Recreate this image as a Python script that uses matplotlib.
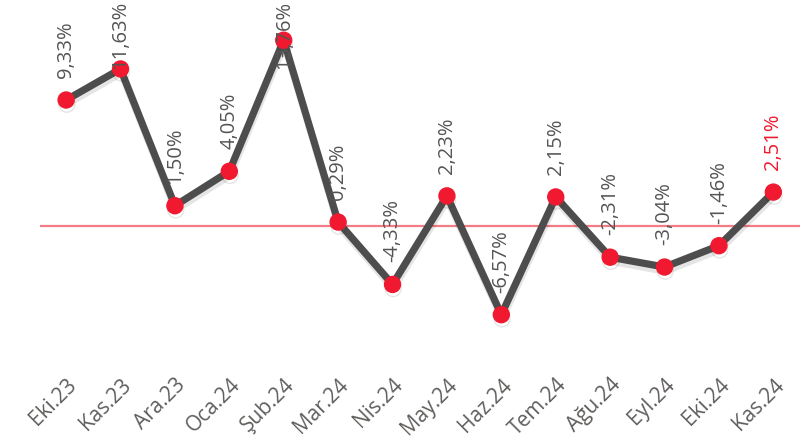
import matplotlib
matplotlib.use("Agg")
import matplotlib.pyplot as plt
import matplotlib.patheffects as pe

months = ["Eki.23", "Kas.23", "Ara.23", "Oca.24", "Şub.24", "Mar.24", "Nis.24",
          "May.24", "Haz.24", "Tem.24", "Ağu.24", "Eyl.24", "Eki.24", "Kas.24"]
values = [9.33, 11.63, 1.50, 4.05, 13.76, 0.29, -4.33,
          2.23, -6.57, 2.15, -2.31, -3.04, -1.46, 2.51]
labels = ["9,33%", "11,63%", "1,50%", "4,05%", "13,76%", "0,29%", "-4,33%",
          "2,23%", "-6,57%", "2,15%", "-2,31%", "-3,04%", "-1,46%", "2,51%"]

W, H = 812, 439
DPI = 100
fig = plt.figure(figsize=(W / DPI, H / DPI), dpi=DPI)
ax = fig.add_axes([40 / W, 1 - 362 / H, 760 / W, 362 / H])

x = list(range(len(values)))
line_col = "#4d4d4d"
red = "#f0192f"

shadow = [pe.SimpleLineShadow(offset=(0.5, -3), shadow_color="black", alpha=0.10, rho=0.3),
          pe.Normal()]
ax.plot(x, values, color=line_col, lw=5.2, solid_joinstyle="round", zorder=3,
        path_effects=shadow)
ax.plot(x, values, ls="none", marker="o", ms=11.5, mfc=red, mec=red, zorder=4,
        path_effects=shadow)
ax.axhline(0, color="#f47c86", lw=1.6, zorder=2)

ax.set_xlim(-0.48, 13.49)
ax.set_ylim(-10.0, 16.81)

for s in ax.spines.values():
    s.set_visible(False)
ax.set_yticks([])
ax.set_xticks(x)
ax.set_xticklabels(months, rotation=45, ha="right", rotation_mode="anchor",
                   fontsize=15, color="#605e5c", family="Open Sans")
ax.tick_params(axis="x", length=0, pad=9)

texts = []
for i, (v, lab) in enumerate(zip(values, labels)):
    col = red if i == len(values) - 1 else "#555555"
    t = ax.annotate(lab, (i, v), xytext=(0, 23), textcoords="offset pixels",
                    rotation=90, ha="center", va="bottom", fontsize=14.5,
                    color=col, family="Open Sans", zorder=5)
    texts.append(t)

fig.canvas.draw()
r = fig.canvas.get_renderer()
for t in texts:
    bb = t.get_window_extent(r)
    if bb.y1 > H - 1:
        shift = bb.y1 - (H - 1)
        t.set_position((0, 23 - shift))

fig.savefig("out.png", dpi=DPI)
